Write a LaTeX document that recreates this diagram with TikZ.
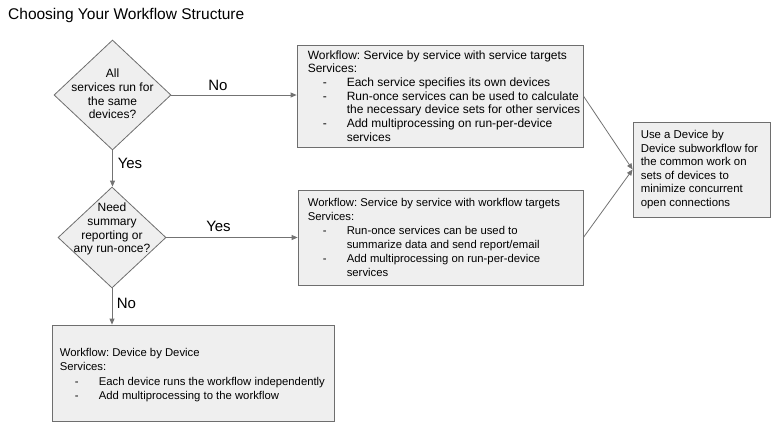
\documentclass[tikz,border=0pt]{standalone}
\usepackage{fontspec}
\setmainfont{Liberation Sans}
\usetikzlibrary{shapes.geometric,arrows.meta,calc}
\definecolor{boxfill}{HTML}{EFEFEF}
\definecolor{boxline}{HTML}{6E6E6E}
\definecolor{lnk}{HTML}{737373}
\newcommand\bl[1]{\makebox[39pt][l]{\hspace{15pt}-}#1}
\newcommand\ct[1]{\hspace*{39pt}#1}
\frenchspacing
\begin{document}
\begin{tikzpicture}[x=1pt,y=-1pt,
  dec/.style={shape=diamond, draw=boxline, fill=boxfill, line width=0.8pt, inner sep=0pt},
  box/.style={shape=rectangle, draw=boxline, fill=boxfill, line width=0.8pt, inner sep=0pt},
  dtext/.style={align=center, font=\frenchspacing\fontsize{12}{13.8}\selectfont, inner sep=0pt},
  btext/.style={align=left, anchor=west, inner sep=0pt},
  lab/.style={font=\fontsize{15}{18}\selectfont, inner sep=0pt},
  conn/.style={draw=lnk, line width=0.8pt, -{Triangle[length=6pt,width=5pt]}}
]
\useasboundingbox (0,0) rectangle (781,429);

\node[font=\fontsize{15.5}{18}\selectfont, anchor=base west, inner sep=0pt] (title) at (8,19.5) {Choosing Your Workflow Structure};

\node[dec, minimum width=117pt, minimum height=110pt] (d1) at (112.5,95) {};
\node[dtext] (d1t) at ([yshift=1pt]d1.center) {All\\services run for\\the same\\devices?};

\node[dec, minimum width=108pt, minimum height=101pt] (d2) at (112,237.5) {};
\node[dtext] (d2t) at ([yshift=8.5pt]d2.center) {Need\\summary\\reporting or\\any run-once?};

\node[box, minimum width=286pt, minimum height=102pt] (b1) at (440,96) {};
\node[btext, font=\frenchspacing\fontsize{12}{13.7}\selectfont] (b1t) at ([xshift=11pt]b1.west) {Workflow: Service by service with service targets\\Services:\\
\bl{Each service specifies its own devices}\\
\bl{Run-once services can be used to calculate}\\
\ct{the necessary device sets for other services}\\
\bl{Add multiprocessing on run-per-device}\\
\ct{services}};

\node[box, minimum width=285pt, minimum height=95pt] (b2) at (440.5,237.5) {};
\node[btext, font=\frenchspacing\fontsize{11.3}{14}\selectfont] (b2t) at ([xshift=10pt]b2.west) {Workflow: Service by service with workflow targets\\Services:\\
\bl{Run-once services can be used to}\\
\ct{summarize data and send report/email}\\
\bl{Add multiprocessing on run-per-device}\\
\ct{services}};

\node[box, minimum width=282pt, minimum height=96pt] (b3) at (193,373) {};
\node[btext, font=\frenchspacing\fontsize{11.3}{14.3}\selectfont] (b3t) at ([xshift=8pt,yshift=-2pt]b3.west) {Workflow: Device by Device\\Services:\\
\bl{Each device runs the workflow independently}\\
\bl{Add multiprocessing to the workflow}};

\node[box, minimum width=137pt, minimum height=95pt] (b4) at (701.5,169.5) {};
\node[btext, font=\frenchspacing\fontsize{11.4}{13.6}\selectfont] (b4t) at ([xshift=8pt]b4.west) {Use a Device by\\Device subworkflow for\\the common work on\\sets of devices to\\minimize concurrent\\open connections};

\draw[conn] (d1.east) -- (d1.east -| b1.west);
\draw[conn] (d1.south) -- (d1.south |- d2.north);
\draw[conn] (d2.east) -- (b2.west);
\draw[conn] (d2.south) -- (d2.south |- b3.north);
\draw[conn] (b1.east) -- (b4.west);
\draw[conn] (b2.east) -- (b4.west);

\node[lab] (lno1) at (218,85) {No};
\node[lab] (lyes1) at (130,163) {Yes};
\node[lab] (lyes2) at (218.5,226) {Yes};
\node[lab] (lno2) at (126.5,303.5) {No};
\end{tikzpicture}
\end{document}
